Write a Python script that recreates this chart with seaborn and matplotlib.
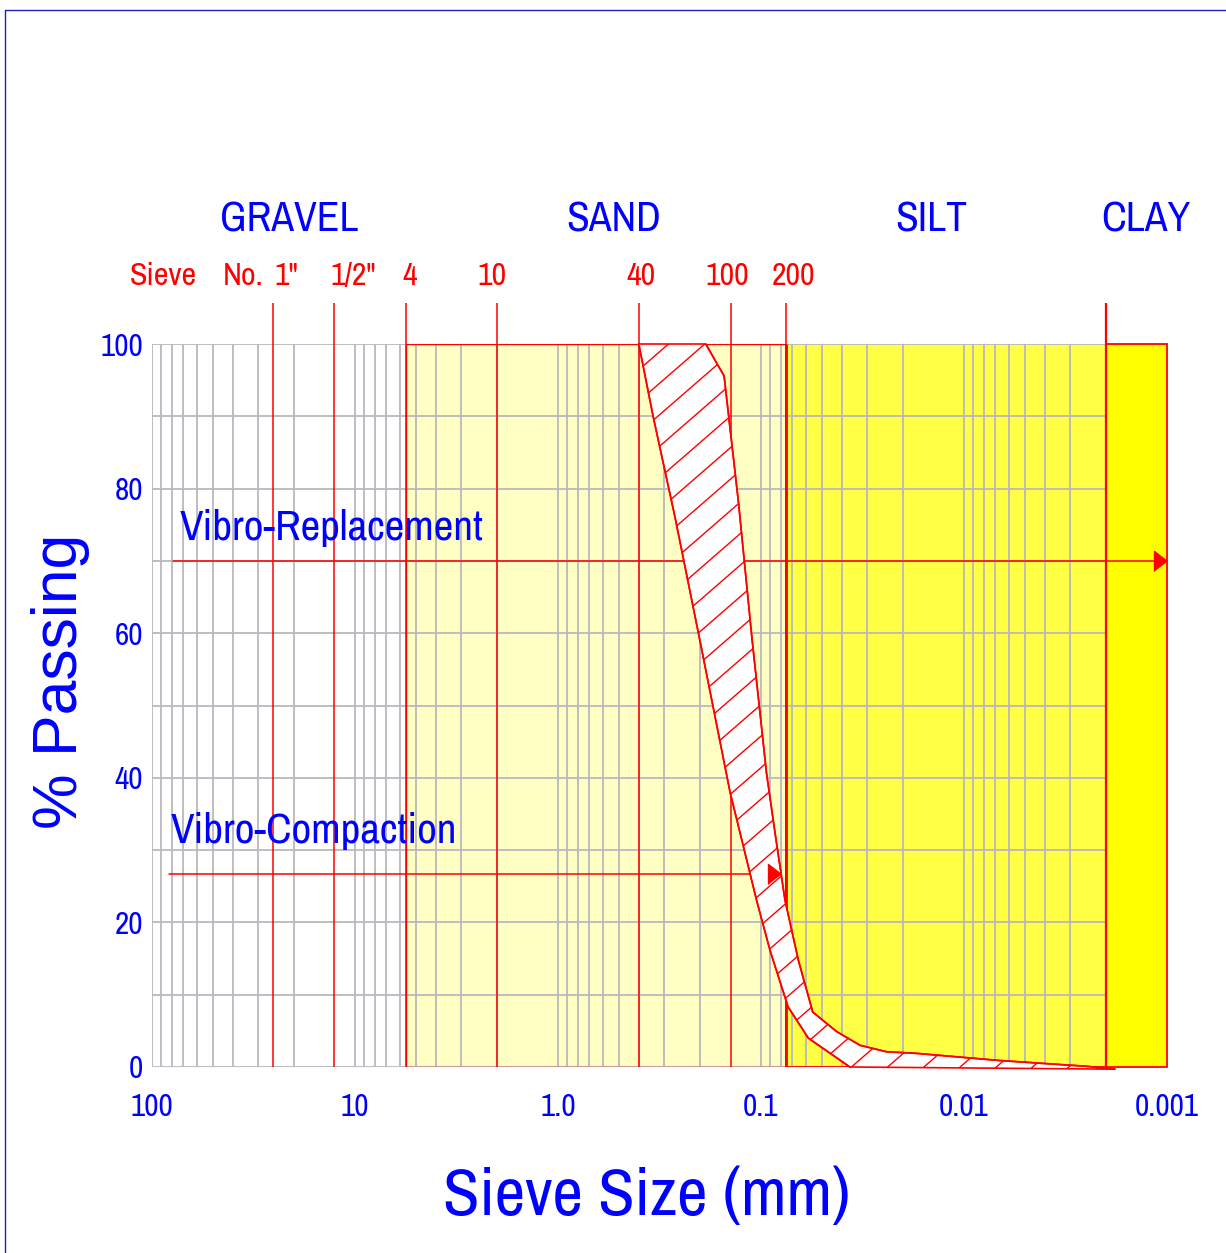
import matplotlib
matplotlib.use('Agg')
import matplotlib.pyplot as plt
from matplotlib.lines import Line2D
from matplotlib.collections import LineCollection
from matplotlib.ticker import FixedLocator, NullFormatter, MultipleLocator
import numpy as np
import pandas as pd
import seaborn as sns

# --- data ---
soil_classes = ['GRAVEL', 'SAND', 'SILT', 'CLAY']

# sieve openings (mm), as placed on the chart
sieve_labels = ['1"', '1/2"', '4', '10', '40', '100', '200']
sieve_mm = [25.4, 12.7, 5.6, 2.0, 0.40, 0.14, 0.075]

# soil class limits (mm)
sand_mm = (5.6, 0.075)
silt_mm = (0.075, 0.002)
clay_mm = (0.002, 0.001)

# gradation envelope: coarse limit and fine limit
coarse_mm = [0.40, 0.34, 0.265, 0.20, 0.142, 0.105, 0.090, 0.0735, 0.063, 0.0585, 0.0365]
coarse_pct = [100, 90, 76, 59, 38, 23, 16, 8.3, 5.4, 4.0, 0.0]
fine_mm = [0.187, 0.165, 0.152, 0.129, 0.111, 0.094, 0.0853, 0.0762, 0.0655, 0.0619,
           0.0556, 0.0424, 0.0325, 0.024, 0.0174, 0.0067, 0.0025, 0.0018]
fine_pct = [100, 97.3, 95.6, 78, 59.5, 40.7, 32.4, 23.1, 14.8, 12.3,
            7.6, 4.9, 3.0, 2.1, 1.9, 0.9, 0.1, -0.3]

# treatment ranges (arrows)
methods = ['Vibro-Replacement', 'Vibro-Compaction']
method_pct = [70, 26.7]
method_from_mm = [79, 82]
method_to_mm = [0.001, 0.08]
method_text_pct = [72.9, 31.0]

x_ticks = [100, 10, 1.0, 0.1, 0.01, 0.001]
x_ticklabels = ['100', '10', '1.0', '0.1', '0.01', '0.001']
y_ticks = [0, 20, 40, 60, 80, 100]

# --- layout ---
BLUE = '#0000FF'
RED = '#FF0000'
GRID = '#B8B8BE'
header_x = [0.135, 0.455, 0.768, 0.979]
sieve_off_px = [14, 19, 4, -5, 2, -4, 7]
method_text_x = [0.0276, 0.0187]

sns.set_theme(style='white')
plt.rcParams['font.family'] = ['Archivo Narrow', 'DejaVu Sans']

fig = plt.figure(figsize=(12.26, 12.53), dpi=100, facecolor='white')
ax = fig.add_axes([152 / 1226, 186 / 1253, 1015 / 1226, 723 / 1253])
ax.set_facecolor('white')
ax.set_xscale('log')
ax.set_xlim(100, 0.001)
ax.set_ylim(0, 100)
for s in ax.spines.values():
    s.set_visible(False)

# grid
ax.set_axisbelow(True)
ax.xaxis.set_major_locator(FixedLocator(x_ticks))
ax.set_xticks(x_ticks, x_ticklabels)
ax.xaxis.set_minor_formatter(NullFormatter())
ax.set_yticks(y_ticks)
ax.yaxis.set_minor_locator(MultipleLocator(10))
ax.grid(which='both', color=GRID, lw=1.3)
ax.tick_params(which='both', length=0)
ax.tick_params(axis='x', pad=19, labelsize=22.5, labelcolor=BLUE)
ax.tick_params(axis='y', pad=6.5, labelsize=22.5, labelcolor=BLUE)

# soil zones
ax.axvspan(*sand_mm, color='#FFFFC4', lw=0, zorder=0.3)
ax.axvspan(*silt_mm, color='#FFFF44', lw=0, zorder=0.3)
ax.axvspan(*clay_mm, fc='#FFFF00', ec=RED, lw=1.3, zorder=0.6, clip_on=False)
ax.axvspan(*sand_mm, fill=False, ec=RED, lw=1.0, zorder=1.6)
ax.hlines(0, *silt_mm, colors=RED, lw=1.3, zorder=1.6)

# sieve lines
ax.vlines(sieve_mm, 0, 105.7, colors=RED, lw=1.1, zorder=1.5, clip_on=False)
ax.vlines([silt_mm[0]], 0, 100, colors=RED, lw=2.0, zorder=1.6)
ax.vlines([clay_mm[0]], 0, 105.7, colors=RED, lw=1.6, zorder=1.6, clip_on=False)

# envelope band
band_x = coarse_mm + fine_mm[::-1]
band_y = coarse_pct + fine_pct[::-1]
band = ax.fill(band_x, band_y, fc='white', ec=RED, lw=1.2, zorder=2, clip_on=False)[0]

env = pd.DataFrame({
    'mm': coarse_mm + fine_mm,
    'pct': coarse_pct + fine_pct,
    'limit': ['coarse'] * len(coarse_mm) + ['fine'] * len(fine_mm),
})
sns.lineplot(data=env, x='mm', y='pct', hue='limit', palette=[RED, RED], sort=False,
             estimator=None, legend=False, lw=1.2, zorder=2.2, ax=ax, clip_on=False)

# hatch lines inside the band
bb = ax.get_position()
W, H = bb.width * 1226, bb.height * 1253
t = np.tan(np.radians(41))
offs = np.arange(22 - 31.5 * 40, H, 31.5)
segs = [[(0, c / H), (1, (c + t * W) / H)] for c in offs]
hatch = LineCollection(segs, colors=RED, linewidths=1.0, transform=ax.transAxes, zorder=2.1)
hatch.set_clip_path(band)
ax.add_collection(hatch)

# arrows
head = [(-1.3, -1), (-1.3, 1), (0, 0)]
for name, p, x0, x1, tp, tx in zip(methods, method_pct, method_from_mm, method_to_mm,
                                   method_text_pct, method_text_x):
    ax.plot([x0, x1], [p, p], color=RED, lw=1.1, zorder=1.7)
    ax.plot([x1], [p], marker=head, ms=18.7, color=RED, mec=RED, zorder=3, clip_on=False)
    ax.text(tx, tp, name, transform=ax.get_yaxis_transform(), color=BLUE, fontsize=31,
            ha='left', va='baseline', zorder=4)

# soil class headers
for name, hx in zip(soil_classes, header_x):
    ax.text(hx, 1.155, name, transform=ax.transAxes, color=BLUE, fontsize=30,
            ha='center', va='baseline', clip_on=False)

# sieve labels
ax.text(0.0108, 1.0816, 'Sieve', transform=ax.transAxes, color=RED, fontsize=23,
        ha='center', va='baseline')
ax.text(0.0897, 1.0816, 'No.', transform=ax.transAxes, color=RED, fontsize=23,
        ha='center', va='baseline')
for lab, mm, off in zip(sieve_labels, sieve_mm, sieve_off_px):
    ax.annotate(lab, xy=(mm, 1.0816), xycoords=ax.get_xaxis_transform(),
                xytext=(off, 0), textcoords='offset pixels', color=RED, fontsize=23,
                ha='center', va='baseline', annotation_clip=False)

# axis labels
ax.set_xlabel('Sieve Size (mm)', fontsize=48, color=BLUE)
ax.xaxis.label.set_va('baseline')
ax.xaxis.set_label_coords(0.487, -0.2047)
ax.set_ylabel('% Passing', fontsize=45, color=BLUE, family=['Liberation Sans', 'DejaVu Sans'])
ax.yaxis.label.set_va('baseline')
ax.yaxis.set_label_coords(-0.0739, 0.533)

# frame lines top/left
fig.add_artist(Line2D([5 / 1226, 1], [1 - 10 / 1253, 1 - 10 / 1253], color='#2020C0', lw=1.0))
fig.add_artist(Line2D([5 / 1226, 5 / 1226], [0, 1 - 10 / 1253], color='#2020C0', lw=1.0))

fig.savefig('out.png', dpi=100, facecolor='white')
